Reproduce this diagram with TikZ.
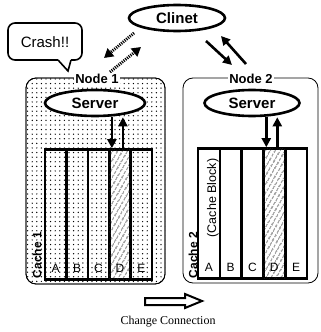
\documentclass[tikz,border=0pt]{standalone}
\usepackage{fontspec}
\setmainfont{Liberation Serif}
\setsansfont{Liberation Sans}
\usetikzlibrary{patterns.meta,arrows.meta,shapes.geometric}
\begin{document}
\begin{tikzpicture}[x=1pt,y=-1pt,
  nodebox/.style={draw, line width=0.8pt, rounded corners=10pt},
  lbl/.style={font=\sffamily\bfseries\fontsize{13}{13}\selectfont, fill=white, inner sep=1pt},
  oval/.style={ellipse, draw, line width=2.6pt, minimum height=26pt, inner sep=0pt, font=\sffamily\bfseries\fontsize{15}{15}\selectfont},
  thickarrow/.style={line width=2.6pt, -{Triangle[length=9pt,width=9pt]}},
  dotarrow/.style={line width=3pt, dash pattern=on 1.1pt off 1.1pt, -{Triangle[length=9pt,width=10pt]}},
  col/.style={draw, line width=2.6pt, minimum height=130pt, inner sep=0pt},
  hatch/.style={fill=white, postaction={pattern={Lines[angle=60,distance=4pt,line width=0.9pt]}}},
  letter/.style={font=\sffamily\fontsize{12}{12}\selectfont},
  cachelbl/.style={font=\sffamily\bfseries\fontsize{12}{12}\selectfont, rotate=90}
]
\useasboundingbox (0,0) rectangle (321,332);

% Node boxes
\path[nodebox, pattern={Dots[radius=0.7pt,distance=4.6pt]}] (26,78) rectangle (165,284);
\draw[nodebox] (26,78) rectangle (165,284);
\draw[nodebox] (183,78) rectangle (318,283);
\node[lbl] (n1) at (97,79) {Node 1};
\node[lbl] (n2) at (251,79) {Node 2};

% Client
\node[oval, minimum width=96pt] (clinet) at (177,18) {Clinet};

% Crash callout
\draw[line width=1.6pt, rounded corners=7pt, fill=white]
  (58,60) -- (8,60) -- (8,23) -- (82,23) -- (82,60) -- (71,60);
\draw[line width=1.6pt, fill=white] (58,60) -- (68,71) -- (71,60);
\node[font=\sffamily\fontsize{15}{15}\selectfont] (crash) at (45,42) {Crash!!};

% Servers
\node[oval, minimum width=100pt, fill=white] (srv1) at (95,103) {Server};
\node[oval, minimum width=95pt] (srv2) at (252,103) {Server};

% Cache 1 columns
\foreach \n/\x in {a/55.7, b/77.1, c/98.5, e/141.3}
  \node[col, minimum width=21.4pt] (c1\n) at (\x,214.5) {};
\node[col, minimum width=21.4pt, hatch] (c1d) at (119.9,214.5) {};
% Cache 2 columns
\foreach \n/\x in {a/208.9, b/230.7, c/252.5, e/296.1}
  \node[col, minimum width=21.8pt, fill=white] (c2\n) at (\x,213.5) {};
\node[col, minimum width=21.8pt, hatch] (c2d) at (274.3,213.5) {};

% letters
\foreach \n/\t in {a/A,b/B,c/C,d/D,e/E}{
  \node[letter] at ([yshift=12pt]c1\n.south) {\t};
  \node[letter] at ([yshift=12pt]c2\n.south) {\t};
}
\node[cachelbl] (cl1) at (37,255) {Cache 1};
\node[cachelbl] (cl2) at (193,255) {Cache 2};
\node[font=\sffamily\fontsize{12.5}{12.5}\selectfont, rotate=90] (cb) at (213,198) {(Cache Block)};

% Server <-> cache arrows
\draw[thickarrow] ([xshift=-8pt]c1d.north |- srv1.south) -- ([xshift=-8pt]c1d.north);
\draw[thickarrow] ([xshift=3pt]c1d.north) -- ([xshift=3pt]c1d.north |- srv1.south);
\draw[thickarrow] ([xshift=-8pt]c2d.north |- srv2.south) -- ([xshift=-8pt]c2d.north);
\draw[thickarrow] ([xshift=3pt]c2d.north) -- ([xshift=3pt]c2d.north |- srv2.south);

% Client <-> nodes
\coordinate (d1s) at (134,33);
\coordinate (d1e) at (104,58);
\coordinate (d2s) at (110,72);
\coordinate (d2e) at (141,47);
\draw[dotarrow] (d1s) -- (d1e);
\draw[dotarrow] (d2s) -- (d2e);
\coordinate (s1s) at (206,41);
\coordinate (s1e) at (232,65);
\coordinate (s2s) at (246,64);
\coordinate (s2e) at (221,36);
\draw[thickarrow] (s1s) -- (s1e);
\draw[thickarrow] (s2s) -- (s2e);

% Change connection arrow
\draw[line width=2pt, line join=miter, fill=white]
  (145,298) -- (185,298) -- (185,294) -- (202,301) -- (185,308) -- (185,305) -- (145,305) -- cycle;
\node[font=\fontsize{12}{12}\selectfont] (cc) at (168,322) {Change Connection};
\end{tikzpicture}
\end{document}
